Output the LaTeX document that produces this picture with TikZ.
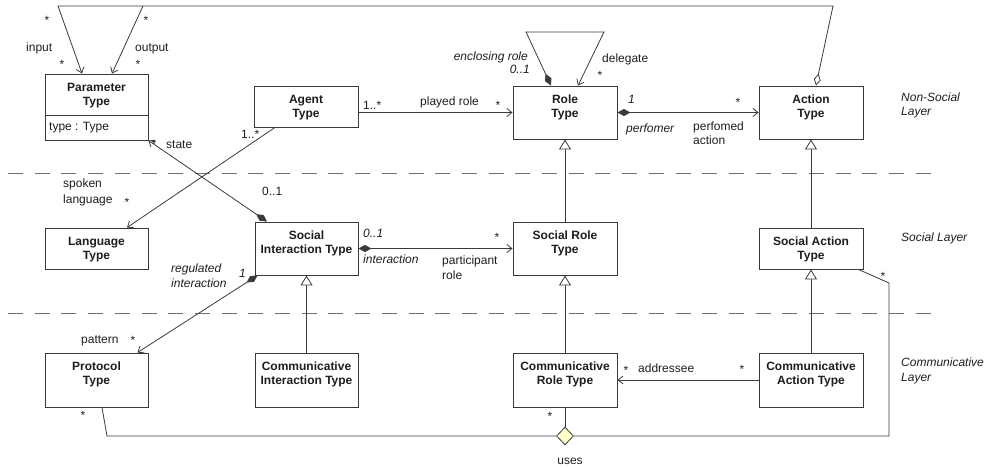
\documentclass[tikz,border=0pt]{standalone}
\usepackage{fontspec}
\setmainfont{Liberation Sans}
\usetikzlibrary{arrows.meta,shapes.geometric,calc}

\definecolor{edge}{HTML}{3A3A3A}
\definecolor{sepgray}{HTML}{707070}
\definecolor{usesfill}{HTML}{FFFFCC}
\definecolor{ink}{HTML}{1E1E1E}

\tikzset{
  clsbox/.style={draw=edge, line width=0.9pt, fill=white, inner sep=0pt, rectangle},
  clsname/.style={font=\fontsize{12}{14}\selectfont\bfseries, text=ink, align=center, inner sep=0pt, anchor=north},
  lbl/.style={font=\fontsize{12}{14}\selectfont, text=ink, inner sep=0pt, anchor=base west},
  ilbl/.style={lbl, font=\fontsize{12}{14}\selectfont\itshape},
  mult/.style={lbl, anchor=base},
  assoc/.style={draw=edge, line width=0.8pt},
  nav/.style={assoc, -{Straight Barb[length=5pt,width=8pt]}},
  comp/.style={assoc, {Diamond[length=13pt,width=7pt]}-{Straight Barb[length=5pt,width=8pt]}},
  aggr/.style={assoc, {Diamond[open,length=12pt,width=7pt]}-{Straight Barb[length=5pt,width=8pt]}},
  gen/.style={assoc, -{Triangle[open,length=10pt,width=12pt,fill=white]}},
  layersep/.style={draw=sepgray, line width=0.8pt, dash pattern=on 15pt off 11.7pt},
  usesnode/.style={diamond, draw=edge, line width=0.8pt, fill=usesfill, minimum width=17pt, minimum height=18pt, inner sep=0pt},
}

% class box: name, left, top, right, bottom, title
\newcommand\umlclass[6]{%
  \node[clsbox, minimum width={(#4)-(#2)}, minimum height={(#5)-(#3)}] (#1)
    at ({((#2)+(#4))/2},{((#3)+(#5))/2}) {};
  \node[clsname] (#1-name) at ($(#1.north)+(0,9)$) {#6};
}

\begin{document}
\begin{tikzpicture}[x=1pt,y=-1pt]
\useasboundingbox (0,0) rectangle (992,468);

% layer separators
\draw[layersep] (8,173) -- (932,173);
\draw[layersep] (8,313) -- (932,313);

% classes
\umlclass{param}{45}{74}{148}{140}{Parameter\\Type}
\draw[draw=edge, line width=0.8pt] (param.west |- 0,115) -- (param.east |- 0,115);
\node[lbl] (param-attr) at (49,131) {type : Type};
\umlclass{agent}{254}{86}{358}{127}{Agent\\Type}
\umlclass{role}{513}{86}{617}{139}{Role\\Type}
\umlclass{action}{759}{86}{863}{139}{Action\\Type}
\umlclass{lang}{45}{228}{148}{269}{Language\\Type}
\umlclass{sint}{255}{222}{358}{275}{Social\\Interaction Type}
\umlclass{srole}{513}{222}{617}{275}{Social Role\\Type}
\umlclass{sact}{759}{228}{863}{269}{Social Action\\Type}
\umlclass{proto}{45}{353}{148}{407}{Protocol\\Type}
\umlclass{cint}{255}{353}{358}{407}{Communicative\\Interaction Type}
\umlclass{crole}{513}{353}{617}{407}{Communicative\\Role Type}
\umlclass{cact}{759}{353}{863}{407}{Communicative\\Action Type}

% layer names
\node[ilbl] (lay1a) at (901,102) {Non-Social};
\node[ilbl] (lay1b) at (901,116) {Layer};
\node[ilbl] (lay2) at (901,241) {Social Layer};
\node[ilbl] (lay3a) at (901,366) {Communicative};
\node[ilbl] (lay3b) at (901,381) {Layer};

% input / output parameters of an action
\coordinate (loopR) at (833,6);
\coordinate (loopL) at (58,6);
\coordinate (loopO) at (143,6);
\draw[aggr] ([xshift=5pt]action.north) -- (loopR) -- (loopL) -- ([xshift=-14.5pt]param.north);
\draw[nav] (loopO) -- ([xshift=15.5pt]param.north);
\node[mult] (m-in1) at (47,24.7) {*};
\node[lbl] (l-input) at (26,52) {input};
\node[mult] (m-in2) at (62,68.7) {*};
\node[mult] (m-out1) at (146,24.7) {*};
\node[lbl] (l-output) at (135,52) {output};
\node[mult] (m-out2) at (138,68.7) {*};

% role delegation
\coordinate (rloopL) at (526,32);
\coordinate (rloopR) at (604,32);
\draw[comp] ([xshift=-14pt]role.north) -- (rloopL) -- (rloopR) -- ([xshift=13pt]role.north);
\node[ilbl, anchor=base east] (l-encl) at (528,61) {enclosing role};
\node[ilbl, anchor=base east] (m-encl) at (530,74) {0..1};
\node[lbl] (l-deleg) at (602,63) {delegate};
\node[mult] (m-deleg) at (600,79.7) {*};

% agent plays roles
\draw[nav] (agent.east |- role.west) -- (role.west);
\node[lbl] (m-agent) at (363,110) {1..*};
\node[lbl] (l-played) at (420,106) {played role};
\node[mult] (m-played) at (498,109.7) {*};

% role performs actions
\draw[comp] (role.east) -- (action.west);
\node[ilbl] (m-perf) at (628,103) {1};
\node[mult] (m-pact) at (738,106.7) {*};
\node[ilbl] (l-perf) at (626,132) {perfomer};
\node[lbl] (l-pact1) at (693,130) {perfomed};
\node[lbl] (l-pact2) at (693,144) {action};

% spoken language
\draw[nav] ([xshift=-31pt]agent.south) -- ([xshift=30.5pt]lang.north);
\node[lbl] (m-agent2) at (241,138) {1..*};
\node[lbl] (l-spoken1) at (63,187) {spoken};
\node[lbl] (l-spoken2) at (63,203) {language};
\node[mult] (m-spoken) at (127,206.7) {*};

% interaction state
\draw[comp] ([xshift=-39.5pt]sint.north) -- (param.south east);
\node[mult] (m-state) at (154,148.7) {*};
\node[lbl] (l-state) at (166,148) {state};
\node[lbl] (m-sint) at (262,195) {0..1};

% participants of an interaction
\draw[comp] (sint.east) -- (srole.west);
\node[ilbl] (m-inter) at (363,237) {0..1};
\node[ilbl] (l-inter) at (363,263) {interaction};
\node[lbl] (l-part1) at (442,264) {participant};
\node[lbl] (l-part2) at (442,279) {role};
\node[mult] (m-part) at (497,241.7) {*};

% interaction protocol
\draw[comp] ([xshift=3pt]sint.south west) -- ([xshift=-11pt]proto.north east);
\node[ilbl] (l-reg1) at (171,272) {regulated};
\node[ilbl] (l-reg2) at (171,287) {interaction};
\node[ilbl] (m-reg) at (239,277) {1};
\node[lbl] (l-pattern) at (81,343) {pattern};
\node[mult] (m-pattern) at (133,344.7) {*};

% addressee
\draw[nav] (cact.west) -- (crole.east);
\node[mult] (m-addr1) at (626,374.7) {*};
\node[lbl] (l-addr) at (638,372) {addressee};
\node[mult] (m-addr2) at (742,373.7) {*};

% generalisations
\draw[gen] (srole.north) -- (role.south);
\draw[gen] (sact.north) -- (action.south);
\draw[gen] (cint.north) -- (sint.south);
\draw[gen] (crole.north) -- (srole.south);
\draw[gen] (cact.north) -- (sact.south);

% ternary association "uses"
\node[usesnode] (uses) at (565,436) {};
\coordinate (uP) at (107,436);
\coordinate (uR1) at (889,436);
\coordinate (uR2) at (889,283);
\draw[assoc] (crole.south) -- (uses.north);
\draw[assoc] ([xshift=5.5pt]proto.south) -- (uP) -- (uses.west);
\draw[assoc] (uses.east) -- (uR1) -- (uR2) -- ([xshift=-5pt]sact.south east);
\node[mult] (m-uproto) at (83,419.7) {*};
\node[mult] (m-urole) at (550,420.7) {*};
\node[mult] (m-uact) at (883,280.7) {*};
\node[lbl, anchor=base] (l-uses) at (570,464) {uses};
\end{tikzpicture}
\end{document}
